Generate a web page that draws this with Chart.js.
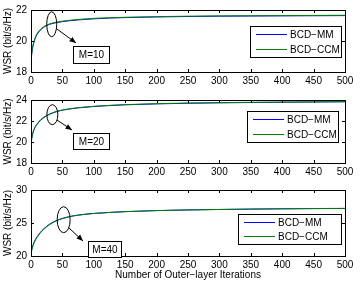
<!DOCTYPE html>
<html>
<head>
<meta charset="utf-8">
<script src="https://cdn.jsdelivr.net/npm/chart.js@4"></script>
<style>
  html, body { margin: 0; padding: 0; background: #fff; }
  #wrap { position: relative; width: 360px; height: 282px; }
  .box { position: absolute; left: 0; width: 360px; }
</style>
</head>
<body>
<div id="wrap">
  <div class="box" style="top:0;height:90px"><canvas id="c1"></canvas></div>
  <div class="box" style="top:90px;height:90px"><canvas id="c2"></canvas></div>
  <div class="box" style="top:180px;height:102px"><canvas id="c3"></canvas></div>
</div>
<script>
const iters = [0, 1, 2, 3, 5, 7, 10, 15, 20, 25, 30, 40, 50, 60, 75, 100, 125, 150, 200, 250, 300, 350, 400, 450, 500];

// M = 10
const mm10  = [18.7, 19.1, 19.4, 19.65, 19.95, 20.2, 20.45, 20.7, 20.88, 21.0, 21.08, 21.18, 21.25, 21.3, 21.36, 21.43, 21.48, 21.51, 21.55, 21.58, 21.6, 21.61, 21.62, 21.63, 21.64];
const ccm10 = [18.65, 19.15, 19.45, 19.7, 20.0, 20.25, 20.5, 20.75, 20.92, 21.03, 21.11, 21.21, 21.28, 21.33, 21.39, 21.46, 21.5, 21.53, 21.57, 21.6, 21.62, 21.63, 21.64, 21.65, 21.66];
// M = 20
const mm20  = [19.8, 20.3, 20.6, 20.85, 21.2, 21.45, 21.7, 22.05, 22.3, 22.5, 22.65, 22.88, 23.03, 23.13, 23.25, 23.38, 23.47, 23.54, 23.63, 23.69, 23.73, 23.76, 23.79, 23.81, 23.83];
const ccm20 = [19.7, 20.25, 20.6, 20.88, 21.25, 21.5, 21.75, 22.1, 22.35, 22.53, 22.68, 22.9, 23.05, 23.15, 23.27, 23.4, 23.49, 23.56, 23.65, 23.71, 23.75, 23.78, 23.8, 23.82, 23.84];
// M = 40
const mm40  = [20.5, 20.9, 21.3, 21.6, 22.1, 22.5, 22.95, 23.6, 24.1, 24.5, 24.85, 25.35, 25.7, 25.95, 26.2, 26.45, 26.6, 26.72, 26.88, 26.98, 27.05, 27.1, 27.15, 27.18, 27.2];
const ccm40 = [20.4, 20.8, 21.2, 21.5, 22.0, 22.4, 22.85, 23.5, 24.0, 24.42, 24.78, 25.3, 25.66, 25.92, 26.18, 26.44, 26.6, 26.72, 26.88, 26.98, 27.05, 27.11, 27.15, 27.19, 27.22];

const seriesNames = ['BCD\u2212MM', 'BCD\u2212CCM'];
const xTitle = 'Number of Outer\u2212layer Iterations';
const yTitle = 'WSR (bit/s/Hz)';

const FONT = 'Liberation Sans, Arial, sans-serif';
const BLUE = '#0000ff';
const GREEN = '#008000';

function pts(ys) {
    return iters.map((x, i) => ({x: x, y: ys[i]}));
}

// box around the plot + inward ticks on every side, like matlab
const framePlugin = {
    id: 'frame',
    afterDatasetsDraw(chart) {
        const a = chart.chartArea;
        const c = chart.ctx;
        const xs = chart.scales.x, ys = chart.scales.y;
        c.save();
        c.strokeStyle = '#000';
        c.lineWidth = 1;
        c.beginPath();
        xs.ticks.forEach(t => {
            const px = Math.round(xs.getPixelForValue(t.value)) + 0.5;
            c.moveTo(px, a.bottom); c.lineTo(px, a.bottom - 3);
            c.moveTo(px, a.top); c.lineTo(px, a.top + 3);
        });
        ys.ticks.forEach(t => {
            const py = Math.round(ys.getPixelForValue(t.value)) + 0.5;
            c.moveTo(a.left, py); c.lineTo(a.left + 3, py);
            c.moveTo(a.right, py); c.lineTo(a.right - 3, py);
        });
        c.stroke();
        c.strokeRect(Math.round(a.left) + 0.5, Math.round(a.top) + 0.5, Math.round(a.right - a.left), Math.round(a.bottom - a.top));
        c.restore();
    }
};

// ellipse + arrow + "M=.." label, and the boxed legend
const notePlugin = {
    id: 'note',
    afterDraw(chart, args, o) {
        const c = chart.ctx;
        const a = chart.chartArea;
        const cx = chart.scales.x.getPixelForValue(o.ex);
        const cy = chart.scales.y.getPixelForValue(o.ey);
        c.save();
        c.strokeStyle = '#000';
        c.fillStyle = '#000';
        c.lineWidth = 1;
        c.beginPath();
        c.ellipse(cx, cy, o.rx, o.ry, 0, 0, Math.PI * 2);
        c.stroke();

        // arrow
        const [x0, y0, x1, y1] = o.arrow;
        c.beginPath();
        c.moveTo(x0, y0); c.lineTo(x1, y1);
        c.stroke();
        const ang = Math.atan2(y1 - y0, x1 - x0);
        c.beginPath();
        c.moveTo(x1, y1);
        c.lineTo(x1 - 7 * Math.cos(ang - 0.4), y1 - 7 * Math.sin(ang - 0.4));
        c.lineTo(x1 - 7 * Math.cos(ang + 0.4), y1 - 7 * Math.sin(ang + 0.4));
        c.closePath();
        c.fill();

        // label box
        const [bx, by, bw, bh] = o.box;
        c.fillStyle = '#fff';
        c.fillRect(bx, by, bw, bh);
        c.strokeRect(bx + 0.5, by + 0.5, bw, bh);
        c.fillStyle = '#000';
        c.font = '10px ' + FONT;
        c.textAlign = 'center';
        c.textBaseline = 'middle';
        c.fillText(o.label, bx + bw / 2 + 0.5, by + bh / 2 + 1);

        // legend
        const lw = o.legW, lh = o.legH;
        const lx = a.right - o.legRight - lw, ly = a.top + o.legTop;
        c.fillStyle = '#fff';
        c.fillRect(lx, ly, lw, lh);
        c.strokeRect(Math.round(lx) + 0.5, Math.round(ly) + 0.5, lw, lh);
        c.textAlign = 'left';
        const rows = [[BLUE, seriesNames[0]], [GREEN, seriesNames[1]]];
        rows.forEach((r, i) => {
            const yy = ly + 8 + i * (lh - 16);
            c.strokeStyle = r[0];
            c.beginPath();
            c.moveTo(lx + 6, Math.round(yy) + 0.5);
            c.lineTo(lx + 37, Math.round(yy) + 0.5);
            c.stroke();
            c.fillStyle = '#000';
            c.fillText(r[1], lx + 40, yy + 1);
        });
        c.restore();
    }
};

function makeChart(id, mm, ccm, yMin, yMax, step, note, pad, xH, showTitle) {
    return new Chart(document.getElementById(id), {
        type: 'line',
        data: {
            datasets: [
                {label: seriesNames[0], data: pts(mm), borderColor: BLUE, borderWidth: 1, pointRadius: 0, cubicInterpolationMode: 'monotone', order: 1},
                {label: seriesNames[1], data: pts(ccm), borderColor: GREEN, borderWidth: 1, pointRadius: 0, cubicInterpolationMode: 'monotone', order: 0}
            ]
        },
        options: {
            responsive: true,
            maintainAspectRatio: false,
            animation: false,
            layout: {padding: {top: pad, right: 15, left: 0, bottom: 0}},
            plugins: {legend: {display: false}, tooltip: {enabled: false}, note: note},
            scales: {
                x: {
                    type: 'linear', min: 0, max: 500,
                    grid: {display: false, drawTicks: false},
                    border: {display: false},
                    ticks: {stepSize: 50, color: '#000', font: {family: FONT, size: 10}, padding: 3, maxRotation: 0},
                    title: {display: showTitle, text: xTitle, color: '#000', font: {family: FONT, size: 10}, padding: {top: 0, bottom: 1}},
                    afterFit(s) { s.height = xH; }
                },
                y: {
                    min: yMin, max: yMax,
                    grid: {display: false, drawTicks: false},
                    border: {display: false},
                    ticks: {stepSize: step, color: '#000', font: {family: FONT, size: 10}, padding: 4},
                    title: {display: true, text: yTitle, color: '#000', font: {family: FONT, size: 10}, padding: {top: 2, bottom: 0}},
                    afterFit(s) { s.width = 31; }
                }
            }
        },
        plugins: [framePlugin, notePlugin]
    });
}

makeChart('c1', mm10, ccm10, 18, 22, 2,
    {ex: 33, ey: 21.08, rx: 5, ry: 12.5, arrow: [57, 29, 76, 43], box: [73, 46, 36, 17], label: 'M=10',
     legW: 91, legH: 31, legRight: 4, legTop: 16}, 7, 18, false);
makeChart('c2', mm20, ccm20, 18, 24, 2,
    {ex: 34, ey: 22.6, rx: 5.5, ry: 10, arrow: [57, 30, 72, 40], box: [73, 43, 36, 16], label: 'M=20',
     legW: 91, legH: 31, legRight: 7, legTop: 11}, 7, 17, false);
makeChart('c3', mm40, ccm40, 20, 30, 5,
    {ex: 52, ey: 25.5, rx: 6.5, ry: 13, arrow: [69, 48, 83, 61], box: [88, 61, 33, 16], label: 'M=40',
     legW: 103, legH: 30, legRight: 4, legTop: 24}, 9, 26, true);
</script>
</body>
</html>
